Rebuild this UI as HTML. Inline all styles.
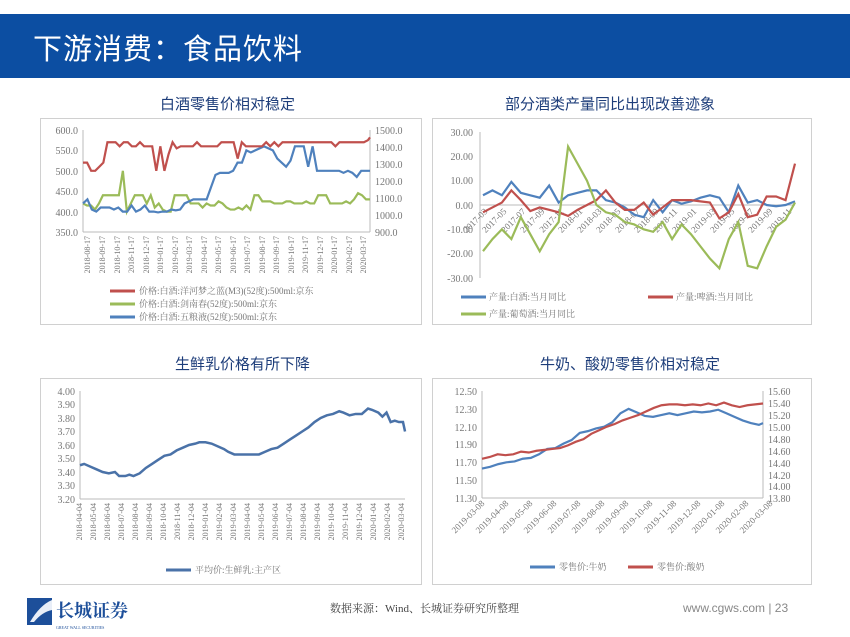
<!DOCTYPE html>
<html><head><meta charset="utf-8"><style>
body{margin:0;width:850px;height:637px;background:#fff;position:relative;overflow:hidden;font-family:"Liberation Serif","Noto Serif CJK SC","Noto Sans CJK SC",serif;}
.banner{position:absolute;left:0;top:14px;width:850px;height:64px;background:#0c4ea2;}
.banner div{position:absolute;left:33px;top:12px;color:#fff;font-size:29px;font-family:"Liberation Sans","Noto Sans CJK SC",sans-serif;letter-spacing:1px;}
.ct{position:absolute;font-size:15px;color:#1d3d7a;font-family:"Liberation Sans","Noto Sans CJK SC",sans-serif;}
.box{position:absolute;border:1px solid #d0d0d0;}
svg text{font-family:"Liberation Serif","Noto Serif CJK SC",serif;fill:#777;font-size:10px;}
</style></head><body>
<div class="banner"><div>下游消费：食品饮料</div></div>
<div class="ct" style="left:160px;top:93px">白酒零售价相对稳定</div>
<div class="ct" style="left:505px;top:93px">部分酒类产量同比出现改善迹象</div>
<div class="ct" style="left:175px;top:353px">生鲜乳价格有所下降</div>
<div class="ct" style="left:540px;top:353px">牛奶、酸奶零售价相对稳定</div>
<div class="box" style="left:40px;top:118px;width:380px;height:205px"></div>
<div class="box" style="left:432px;top:118px;width:378px;height:205px"></div>
<div class="box" style="left:40px;top:378px;width:380px;height:205px"></div>
<div class="box" style="left:432px;top:378px;width:378px;height:205px"></div>

<svg width="850" height="637" style="position:absolute;left:0;top:0">
<!-- Chart 1 -->
<g stroke="#bbb" stroke-width="1"><line x1="83" y1="130" x2="83" y2="232"/><line x1="370" y1="130" x2="370" y2="232"/><line x1="83" y1="232" x2="370" y2="232"/></g>
<g text-anchor="end"><text x="78" y="134">600.0</text><text x="78" y="154">550.0</text><text x="78" y="175">500.0</text><text x="78" y="195">450.0</text><text x="78" y="216">400.0</text><text x="78" y="236">350.0</text></g>
<g><text x="375" y="134">1500.0</text><text x="375" y="151">1400.0</text><text x="375" y="168">1300.0</text><text x="375" y="185">1200.0</text><text x="375" y="202">1100.0</text><text x="375" y="219">1000.0</text><text x="375" y="236">900.0</text></g>
<g font-size="8">
<text transform="translate(90,236) rotate(-90)" text-anchor="end" style="font-size:8px">2018-08-17</text>
<text transform="translate(105,236) rotate(-90)" text-anchor="end" style="font-size:8px">2018-09-17</text>
<text transform="translate(120,236) rotate(-90)" text-anchor="end" style="font-size:8px">2018-10-17</text>
<text transform="translate(134,236) rotate(-90)" text-anchor="end" style="font-size:8px">2018-11-17</text>
<text transform="translate(149,236) rotate(-90)" text-anchor="end" style="font-size:8px">2018-12-17</text>
<text transform="translate(163,236) rotate(-90)" text-anchor="end" style="font-size:8px">2019-01-17</text>
<text transform="translate(178,236) rotate(-90)" text-anchor="end" style="font-size:8px">2019-02-17</text>
<text transform="translate(192,236) rotate(-90)" text-anchor="end" style="font-size:8px">2019-03-17</text>
<text transform="translate(207,236) rotate(-90)" text-anchor="end" style="font-size:8px">2019-04-17</text>
<text transform="translate(221,236) rotate(-90)" text-anchor="end" style="font-size:8px">2019-05-17</text>
<text transform="translate(236,236) rotate(-90)" text-anchor="end" style="font-size:8px">2019-06-17</text>
<text transform="translate(250,236) rotate(-90)" text-anchor="end" style="font-size:8px">2019-07-17</text>
<text transform="translate(265,236) rotate(-90)" text-anchor="end" style="font-size:8px">2019-08-17</text>
<text transform="translate(279,236) rotate(-90)" text-anchor="end" style="font-size:8px">2019-09-17</text>
<text transform="translate(294,236) rotate(-90)" text-anchor="end" style="font-size:8px">2019-10-17</text>
<text transform="translate(308,236) rotate(-90)" text-anchor="end" style="font-size:8px">2019-11-17</text>
<text transform="translate(323,236) rotate(-90)" text-anchor="end" style="font-size:8px">2019-12-17</text>
<text transform="translate(337,236) rotate(-90)" text-anchor="end" style="font-size:8px">2020-01-17</text>
<text transform="translate(352,236) rotate(-90)" text-anchor="end" style="font-size:8px">2020-02-17</text>
<text transform="translate(366,236) rotate(-90)" text-anchor="end" style="font-size:8px">2020-03-17</text>
</g>
<svg x="83" y="130" width="287" height="102" viewBox="0 -600 72 250" preserveAspectRatio="none" overflow="visible">
<polyline fill="none" stroke="#9bbb59" stroke-width="2.2" vector-effect="non-scaling-stroke" points="0,-420 1,-415 2,-415 3,-405 4,-420 5,-440 6,-440 7,-440 8,-440 9,-440 10,-500 11,-400 12,-420 13,-440 14,-440 15,-440 16,-420 17,-440 18,-410 19,-420 20,-405 21,-400 22,-400 23,-440 24,-440 25,-440 26,-440 27,-420 28,-420 29,-420 30,-410 31,-420 32,-415 33,-415 34,-425 35,-420 36,-410 37,-405 38,-405 39,-410 40,-405 41,-415 42,-405 43,-440 44,-440 45,-425 46,-425 47,-425 48,-420 49,-420 50,-420 51,-425 52,-425 53,-420 54,-420 55,-420 56,-425 57,-420 58,-420 59,-440 60,-440 61,-440 62,-420 63,-420 64,-420 65,-420 66,-425 67,-420 68,-430 69,-445 70,-440 71,-430 72,-430"/>
<polyline fill="none" stroke="#4f81bd" stroke-width="2.2" vector-effect="non-scaling-stroke" transform="scale(1.1077,1)" points="0,-420 1,-430 2,-405 3,-400 4,-410 5,-410 6,-410 7,-405 8,-410 9,-400 10,-400 11,-415 12,-400 13,-405 14,-415 15,-400 16,-400 17,-398 18,-400 19,-400 20,-405 21,-403 22,-405 23,-420 24,-425 25,-430 26,-430 27,-430 28,-430 29,-460 30,-490 31,-495 32,-495 33,-495 34,-500 35,-520 36,-520 37,-550 38,-545 39,-550 40,-555 41,-560 42,-555 43,-550 44,-530 45,-520 46,-510 47,-525 48,-560 49,-560 50,-560 51,-510 52,-560 53,-500 54,-500 55,-500 56,-500 57,-500 58,-500 59,-495 60,-500 61,-495 62,-485 63,-500 64,-500 65,-500"/>
<polyline fill="none" stroke="#c0504d" stroke-width="2.2" vector-effect="non-scaling-stroke" transform="scale(1.0213,1)" points="0,-520 1,-520 2,-500 3,-500 4,-510 5,-520 6,-570 7,-570 8,-570 9,-560 10,-570 11,-570 12,-560 13,-560 14,-570 15,-560 16,-560 17,-560 18,-500 19,-560 20,-500 21,-540 22,-570 23,-555 24,-560 25,-560 26,-560 27,-560 28,-570 29,-560 30,-560 31,-560 32,-560 33,-560 34,-570 35,-570 36,-570 37,-570 38,-530 39,-570 40,-560 41,-560 42,-560 43,-560 44,-560 45,-570 46,-560 47,-570 48,-560 49,-570 50,-570 51,-570 52,-570 53,-570 54,-570 55,-570 56,-570 57,-570 58,-570 59,-570 60,-570 61,-570 62,-560 63,-570 64,-570 65,-570 66,-570 67,-570 68,-570 69,-570 70,-575 70.5,-582"/>
</svg>
<g stroke-width="3"><line x1="110" y1="291" x2="135" y2="291" stroke="#c0504d"/><line x1="110" y1="304" x2="135" y2="304" stroke="#9bbb59"/><line x1="110" y1="317" x2="135" y2="317" stroke="#4f81bd"/></g>
<g style="font-size:9px"><text x="139" y="294" style="font-size:9px">价格:白酒:洋河梦之蓝(M3)(52度):500ml:京东</text><text x="139" y="307" style="font-size:9px">价格:白酒:剑南春(52度):500ml:京东</text><text x="139" y="320" style="font-size:9px">价格:白酒:五粮液(52度):500ml:京东</text></g>

<!-- Chart 2 -->
<g text-anchor="end"><text x="473" y="136">30.00</text><text x="473" y="160">20.00</text><text x="473" y="184">10.00</text><text x="473" y="209">0.00</text><text x="473" y="233">-10.00</text><text x="473" y="257">-20.00</text><text x="473" y="282">-30.00</text></g>
<line x1="480" y1="132" x2="480" y2="278" stroke="#bbb"/><line x1="480" y1="205" x2="795" y2="205" stroke="#bbb"/>
<g style="font-size:9px">
<text transform="translate(488,212) rotate(-45)" text-anchor="end" style="font-size:9px">2017-03</text>
<text transform="translate(507,212) rotate(-45)" text-anchor="end" style="font-size:9px">2017-05</text>
<text transform="translate(526,212) rotate(-45)" text-anchor="end" style="font-size:9px">2017-07</text>
<text transform="translate(545,212) rotate(-45)" text-anchor="end" style="font-size:9px">2017-09</text>
<text transform="translate(564,212) rotate(-45)" text-anchor="end" style="font-size:9px">2017-11</text>
<text transform="translate(583,212) rotate(-45)" text-anchor="end" style="font-size:9px">2018-01</text>
<text transform="translate(602,212) rotate(-45)" text-anchor="end" style="font-size:9px">2018-03</text>
<text transform="translate(621,212) rotate(-45)" text-anchor="end" style="font-size:9px">2018-05</text>
<text transform="translate(640,212) rotate(-45)" text-anchor="end" style="font-size:9px">2018-07</text>
<text transform="translate(659,212) rotate(-45)" text-anchor="end" style="font-size:9px">2018-09</text>
<text transform="translate(678,212) rotate(-45)" text-anchor="end" style="font-size:9px">2018-11</text>
<text transform="translate(697,212) rotate(-45)" text-anchor="end" style="font-size:9px">2019-01</text>
<text transform="translate(716,212) rotate(-45)" text-anchor="end" style="font-size:9px">2019-03</text>
<text transform="translate(735,212) rotate(-45)" text-anchor="end" style="font-size:9px">2019-05</text>
<text transform="translate(754,212) rotate(-45)" text-anchor="end" style="font-size:9px">2019-07</text>
<text transform="translate(773,212) rotate(-45)" text-anchor="end" style="font-size:9px">2019-09</text>
<text transform="translate(792,212) rotate(-45)" text-anchor="end" style="font-size:9px">2019-11</text>
</g>
<svg x="483" y="132" width="312" height="146" viewBox="0 -30 33 60" preserveAspectRatio="none" overflow="visible">
<polyline fill="none" stroke="#4f81bd" stroke-width="2.2" vector-effect="non-scaling-stroke" points="0,-4 1,-6 2,-4 3,-9.5 4,-5 5,-4 6,-3 7,-8 8,-1 9,-4 10,-5 11,-6 12,-6 13,-2 14,-1 15,1 16,4 17,5 18,-2 19,3 20,-2 21,-0.5 22,-1.5 23,-3 24,-4 25,-3 26,3 27,-8 28,-1 29,-2 30,0 31,0.5 32,0 33,-1.5"/>
<polyline fill="none" stroke="#c0504d" stroke-width="2.2" vector-effect="non-scaling-stroke" points="0,3 1,1 2,-1 3,-6 4,-2 5,2.5 6,1 7,2 8,3 9,4.5 10,2 11,0 12,-2 13,-6 14,-1 15,2 16,2 17,-1 18,4 19,1 20,-2 21,-2 22,-2 23,-1.5 24,-1 25,5.5 26,3 27,-4.5 28,5 29,4 30,-3.5 31,-3.5 32,-2 33,-17"/>
<polyline fill="none" stroke="#9bbb59" stroke-width="2.2" vector-effect="non-scaling-stroke" points="0,19 1,14 2,10 3,14 4,5 5,12 6,19 7,12 8,7 9,-24 10,-17 11,-10 12,0 13,3 14,4 15,7 16,8 17,10 18,11 19,7 20,14 21,8 22,12 23,17 24,22 25,26 26,14 27,7 28,25 29,26 30,17 31,9 32,6 33,-1"/>
</svg>
<g stroke-width="3"><line x1="461" y1="297" x2="486" y2="297" stroke="#4f81bd"/><line x1="648" y1="297" x2="673" y2="297" stroke="#c0504d"/><line x1="461" y1="314" x2="486" y2="314" stroke="#9bbb59"/></g>
<text x="489" y="300" style="font-size:9px">产量:白酒:当月同比</text><text x="676" y="300" style="font-size:9px">产量:啤酒:当月同比</text><text x="489" y="317" style="font-size:9px">产量:葡萄酒:当月同比</text>

<!-- Chart 3 -->
<g text-anchor="end"><text x="75" y="395">4.00</text><text x="75" y="408">3.90</text><text x="75" y="422">3.80</text><text x="75" y="435">3.70</text><text x="75" y="449">3.60</text><text x="75" y="462">3.50</text><text x="75" y="476">3.40</text><text x="75" y="489">3.30</text><text x="75" y="503">3.20</text></g>
<line x1="80" y1="391" x2="80" y2="499" stroke="#bbb"/><line x1="80" y1="499" x2="405" y2="499" stroke="#bbb"/>
<g>
<text transform="translate(82,503) rotate(-90)" text-anchor="end" style="font-size:8px">2018-04-04</text>
<text transform="translate(96,503) rotate(-90)" text-anchor="end" style="font-size:8px">2018-05-04</text>
<text transform="translate(110,503) rotate(-90)" text-anchor="end" style="font-size:8px">2018-06-04</text>
<text transform="translate(124,503) rotate(-90)" text-anchor="end" style="font-size:8px">2018-07-04</text>
<text transform="translate(138,503) rotate(-90)" text-anchor="end" style="font-size:8px">2018-08-04</text>
<text transform="translate(152,503) rotate(-90)" text-anchor="end" style="font-size:8px">2018-09-04</text>
<text transform="translate(166,503) rotate(-90)" text-anchor="end" style="font-size:8px">2018-10-04</text>
<text transform="translate(180,503) rotate(-90)" text-anchor="end" style="font-size:8px">2018-11-04</text>
<text transform="translate(194,503) rotate(-90)" text-anchor="end" style="font-size:8px">2018-12-04</text>
<text transform="translate(208,503) rotate(-90)" text-anchor="end" style="font-size:8px">2019-01-04</text>
<text transform="translate(222,503) rotate(-90)" text-anchor="end" style="font-size:8px">2019-02-04</text>
<text transform="translate(236,503) rotate(-90)" text-anchor="end" style="font-size:8px">2019-03-04</text>
<text transform="translate(250,503) rotate(-90)" text-anchor="end" style="font-size:8px">2019-04-04</text>
<text transform="translate(264,503) rotate(-90)" text-anchor="end" style="font-size:8px">2019-05-04</text>
<text transform="translate(278,503) rotate(-90)" text-anchor="end" style="font-size:8px">2019-06-04</text>
<text transform="translate(292,503) rotate(-90)" text-anchor="end" style="font-size:8px">2019-07-04</text>
<text transform="translate(306,503) rotate(-90)" text-anchor="end" style="font-size:8px">2019-08-04</text>
<text transform="translate(320,503) rotate(-90)" text-anchor="end" style="font-size:8px">2019-09-04</text>
<text transform="translate(334,503) rotate(-90)" text-anchor="end" style="font-size:8px">2019-10-04</text>
<text transform="translate(348,503) rotate(-90)" text-anchor="end" style="font-size:8px">2019-11-04</text>
<text transform="translate(362,503) rotate(-90)" text-anchor="end" style="font-size:8px">2019-12-04</text>
<text transform="translate(376,503) rotate(-90)" text-anchor="end" style="font-size:8px">2020-01-04</text>
<text transform="translate(390,503) rotate(-90)" text-anchor="end" style="font-size:8px">2020-02-04</text>
<text transform="translate(404,503) rotate(-90)" text-anchor="end" style="font-size:8px">2020-03-04</text>
</g>
<svg x="80" y="391" width="325" height="108" viewBox="0 -4 100 0.8" preserveAspectRatio="none" overflow="visible">
<polyline fill="none" stroke="#4a72a8" stroke-width="2.5" vector-effect="non-scaling-stroke" points="0,-3.45 2,-3.46 5,-3.44 8,-3.42 11,-3.40 14,-3.39 17,-3.40 19,-3.37 22,-3.37 24,-3.38 26,-3.37 29,-3.39 32,-3.43 35,-3.46 38,-3.49 41,-3.52 44,-3.53 47,-3.56 50,-3.58 53,-3.60 56,-3.61 58,-3.62 61,-3.62 64,-3.61 67,-3.59 70,-3.57 72,-3.55 75,-3.53 79,-3.53 83,-3.53 87,-3.53 90,-3.55 93,-3.57 96,-3.58 99,-3.61 102,-3.64 105,-3.67 108,-3.70 111,-3.73 114,-3.77 117,-3.80 120,-3.82 123,-3.83 126,-3.85 128,-3.84 131,-3.82 134,-3.83 137,-3.83 140,-3.87 142,-3.86 145,-3.84 147,-3.81 149,-3.84 151,-3.77 153,-3.78 155,-3.77 157,-3.77 158,-3.70" transform="scale(0.633,1)"/>
</svg>
<line x1="166" y1="570" x2="191" y2="570" stroke="#4a72a8" stroke-width="3"/>
<text x="195" y="573" style="font-size:9px">平均价:生鲜乳:主产区</text>

<!-- Chart 4 -->
<g text-anchor="end"><text x="477" y="395">12.50</text><text x="477" y="413">12.30</text><text x="477" y="431">12.10</text><text x="477" y="448">11.90</text><text x="477" y="466">11.70</text><text x="477" y="484">11.50</text><text x="477" y="502">11.30</text></g>
<g><text x="768" y="395">15.60</text><text x="768" y="407">15.40</text><text x="768" y="419">15.20</text><text x="768" y="431">15.00</text><text x="768" y="443">14.80</text><text x="768" y="455">14.60</text><text x="768" y="467">14.40</text><text x="768" y="479">14.20</text><text x="768" y="490">14.00</text><text x="768" y="502">13.80</text></g>
<g stroke="#bbb"><line x1="482" y1="391" x2="482" y2="498"/><line x1="763" y1="391" x2="763" y2="498"/><line x1="482" y1="498" x2="763" y2="498"/></g>
<g>
<text transform="translate(485,504) rotate(-45)" text-anchor="end" style="font-size:9px">2019-03-08</text>
<text transform="translate(509,504) rotate(-45)" text-anchor="end" style="font-size:9px">2019-04-08</text>
<text transform="translate(533,504) rotate(-45)" text-anchor="end" style="font-size:9px">2019-05-08</text>
<text transform="translate(557,504) rotate(-45)" text-anchor="end" style="font-size:9px">2019-06-08</text>
<text transform="translate(581,504) rotate(-45)" text-anchor="end" style="font-size:9px">2019-07-08</text>
<text transform="translate(605,504) rotate(-45)" text-anchor="end" style="font-size:9px">2019-08-08</text>
<text transform="translate(629,504) rotate(-45)" text-anchor="end" style="font-size:9px">2019-09-08</text>
<text transform="translate(653,504) rotate(-45)" text-anchor="end" style="font-size:9px">2019-10-08</text>
<text transform="translate(677,504) rotate(-45)" text-anchor="end" style="font-size:9px">2019-11-08</text>
<text transform="translate(701,504) rotate(-45)" text-anchor="end" style="font-size:9px">2019-12-08</text>
<text transform="translate(725,504) rotate(-45)" text-anchor="end" style="font-size:9px">2020-01-08</text>
<text transform="translate(749,504) rotate(-45)" text-anchor="end" style="font-size:9px">2020-02-08</text>
<text transform="translate(773,504) rotate(-45)" text-anchor="end" style="font-size:9px">2020-03-08</text>
</g>
<svg x="482" y="391" width="281" height="107" viewBox="0 -12.5 56 1.2" preserveAspectRatio="none" overflow="visible">
<polyline fill="none" stroke="#4f81bd" stroke-width="2.2" vector-effect="non-scaling-stroke" points="0,-11.63 2,-11.65 4,-11.68 6,-11.70 8,-11.71 10,-11.74 12,-11.75 14,-11.79 16,-11.85 18,-11.86 20,-11.91 22,-11.95 24,-12.03 26,-12.05 28,-12.08 30,-12.10 32,-12.15 34,-12.25 36,-12.30 38,-12.26 40,-12.22 42,-12.21 44,-12.23 46,-12.25 48,-12.23 50,-12.25 52,-12.27 54,-12.26 56,-12.27 58,-12.29 60,-12.25 62,-12.21 64,-12.17 66,-12.14 68,-12.12 69,-12.14" transform="scale(0.8116,1)"/>
<polyline fill="none" stroke="#c0504d" stroke-width="2.2" vector-effect="non-scaling-stroke" points="0,-11.74 2,-11.76 4,-11.79 6,-11.78 8,-11.79 10,-11.82 12,-11.81 14,-11.83 16,-11.84 18,-11.85 20,-11.86 22,-11.89 24,-11.93 26,-11.96 28,-12.02 30,-12.06 32,-12.10 34,-12.13 36,-12.17 38,-12.20 40,-12.23 42,-12.27 44,-12.31 46,-12.34 48,-12.35 50,-12.35 52,-12.34 54,-12.35 56,-12.34 58,-12.36 60,-12.34 62,-12.37 64,-12.34 66,-12.32 68,-12.34 70,-12.35 72,-12.36" transform="scale(0.7778,1)"/>
</svg>
<g stroke-width="3"><line x1="530" y1="567" x2="555" y2="567" stroke="#4f81bd"/><line x1="628" y1="567" x2="653" y2="567" stroke="#c0504d"/></g>
<text x="559" y="570" style="font-size:9px">零售价:牛奶</text><text x="657" y="570" style="font-size:9px">零售价:酸奶</text>

<!-- footer -->
<g><rect x="27" y="598" width="25" height="27" fill="#1d4f9a"/><path d="M30,622 Q40,605 52,600 L52,610 Q42,612 34,622 Z" fill="#e8eef8"/></g>
<text x="56" y="617" style="font-size:18px;fill:#1d4f9a;font-family:'Noto Serif CJK SC',serif;font-weight:bold">长城证券</text>
<text x="56" y="629" style="font-size:4px;fill:#1d4f9a">GREAT WALL SECURITIES</text>
<text x="330" y="612" style="font-size:11px;fill:#444">数据来源：Wind、长城证券研究所整理</text>
<text x="683" y="612" style="font-size:12px;fill:#888;font-family:'Liberation Sans',sans-serif">www.cgws.com | 23</text>
</svg>
</body></html>
